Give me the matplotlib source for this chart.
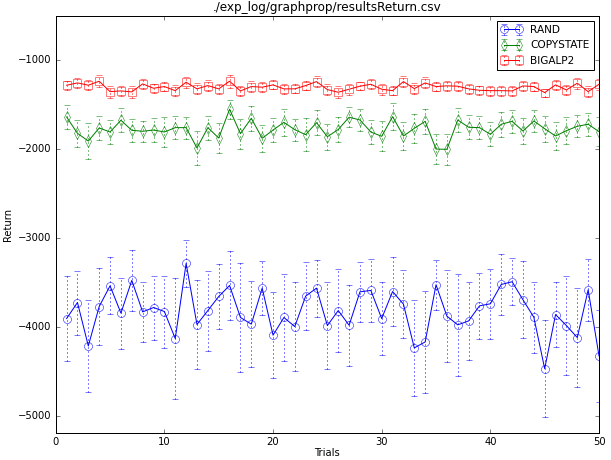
import numpy as np
import matplotlib
matplotlib.use("Agg")
import matplotlib.pyplot as plt

trials = list(range(1, 51))

rand_mean = [-3906, -3726, -4214, -3771, -3538, -3845, -3477, -3831, -3782, -3827,
             -4131, -3286, -3973, -3816, -3658, -3534, -3894, -3969, -3564, -4093,
             -3894, -3996, -3654, -3564, -3985, -3816, -3981, -3605, -3590, -3906,
             -3602, -3744, -4236, -4169, -3526, -3879, -3977, -3932, -3763, -3740,
             -3523, -3492, -3695, -3891, -4470, -3861, -3985, -4120, -3583, -4326]
rand_std = [480, 360, 515, 435, 320, 400, 345, 340, 360, 405,
            680, 260, 495, 450, 365, 385, 615, 480, 300, 480,
            490, 500, 380, 320, 485, 470, 455, 340, 355, 410,
            385, 383, 540, 575, 280, 515, 577, 440, 370, 393,
            338, 263, 434, 400, 543, 370, 558, 556, 346, 516]

copy_mean = [-1639, -1823, -1910, -1763, -1808, -1676, -1789, -1800, -1786, -1808,
             -1759, -1759, -1988, -1759, -1876, -1552, -1827, -1654, -1879, -1786,
             -1699, -1782, -1838, -1703, -1861, -1780, -1642, -1673, -1808, -1857,
             -1635, -1853, -1767, -1688, -2000, -2003, -1673, -1755, -1759, -1834,
             -1721, -1688, -1797, -1684, -1771, -1853, -1793, -1744, -1721, -1804]
copy_std = [135, 155, 200, 137, 137, 133, 130, 120, 130, 165,
            133, 125, 186, 135, 170, 107, 170, 140, 155, 137,
            154, 122, 186, 143, 145, 137, 110, 122, 135, 170,
            152, 155, 160, 138, 165, 175, 130, 133, 130, 137,
            143, 128, 143, 122, 145, 158, 155, 122, 127, 165]

big_mean = [-1282, -1256, -1282, -1237, -1354, -1346, -1357, -1267, -1316, -1297,
            -1343, -1248, -1323, -1286, -1323, -1237, -1346, -1297, -1304, -1278,
            -1323, -1323, -1286, -1241, -1331, -1361, -1327, -1293, -1271, -1327,
            -1343, -1241, -1320, -1256, -1297, -1289, -1293, -1323, -1339, -1343,
            -1343, -1346, -1290, -1297, -1365, -1278, -1335, -1259, -1354, -1271]
big_std = [50, 55, 55, 65, 68, 58, 70, 58, 52, 48,
           58, 60, 62, 60, 55, 75, 55, 65, 55, 50,
           55, 52, 55, 65, 62, 68, 60, 48, 55, 62,
           48, 65, 60, 62, 55, 55, 55, 55, 52, 55,
           55, 55, 52, 55, 45, 58, 55, 62, 58, 60]

series = [
    ("RAND", rand_mean, rand_std, "b", "o"),
    ("COPYSTATE", copy_mean, copy_std, "g", "d"),
    ("BIGALP2", big_mean, big_std, "r", "s"),
]

plt.style.use("classic")
plt.rcParams["font.size"] = 10

fig = plt.figure(figsize=(611 / 72, 460 / 72), dpi=72)
ax = fig.add_axes([0.0912, 0.0593, 0.8892, 0.9066])

for name, mean, std, col, mk in series:
    line, caps, bars = ax.errorbar(
        trials, mean, yerr=std,
        fmt="-" + mk, color=col, mfc="none", mec=col,
        markersize=8, linewidth=1, capsize=3,
        label=name
    )
    for b in bars:
        b.set_linestyle(":")

ax.set_xlim(0, 50)
ax.set_ylim(-5190, -500)
ax.set_xticks([0, 10, 20, 30, 40, 50])
ax.set_yticks([-5000, -4000, -3000, -2000, -1000])

ax.set_title("./exp_log/graphprop/resultsReturn.csv")
ax.set_xlabel("Trials", labelpad=1)
ax.set_ylabel("Return")

ax.legend(loc="upper right", fontsize=10.5)

fig.savefig("out.png", dpi=72)
plt.close()
